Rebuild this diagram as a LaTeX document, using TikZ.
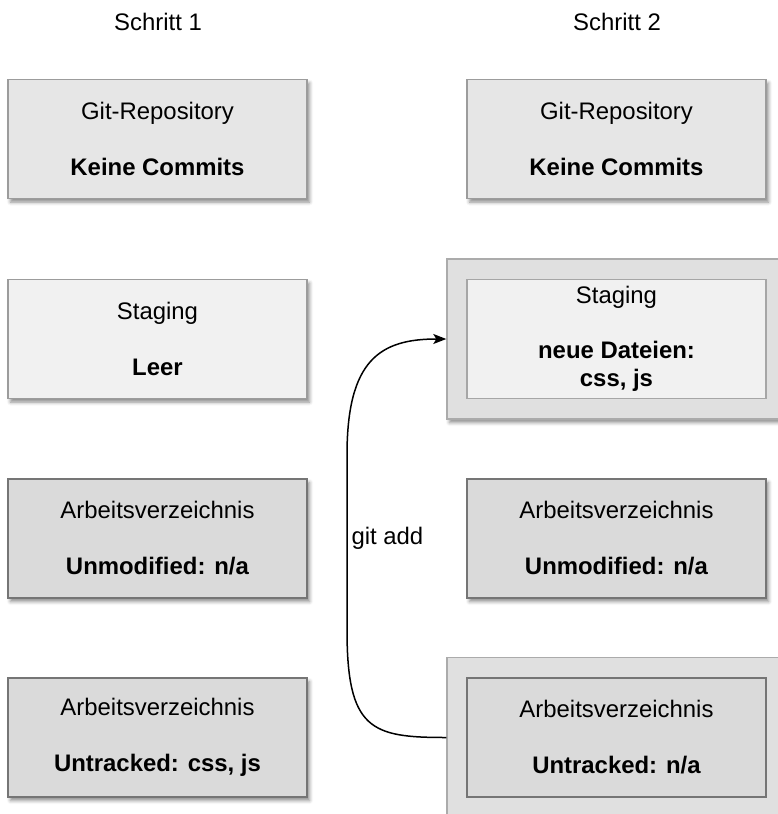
\documentclass[tikz,border=0pt]{standalone}
\usepackage{fontspec}
\setmainfont{Liberation Sans}
\usetikzlibrary{shadows.blur,arrows.meta}
\definecolor{gitfill}{HTML}{E6E6E6}
\definecolor{stagefill}{HTML}{F1F1F1}
\definecolor{workfill}{HTML}{DADADA}
\definecolor{outerfill}{HTML}{E0E0E0}
\definecolor{lightborder}{HTML}{9C9C9C}
\definecolor{darkborder}{HTML}{757575}
\tikzset{
  base/.style={font=\fontsize{24}{28.5}\selectfont, text=black},
  boxbase/.style={base, rectangle, line width=1.4bp, minimum width=299bp, minimum height=119bp, align=center, inner sep=0pt},
  shad/.style={blur shadow={shadow xshift=2.5bp, shadow yshift=-3.5bp, shadow blur radius=3.5bp, shadow opacity=45}},
  gitbox/.style={boxbase, shad, fill=gitfill, draw=lightborder},
  stagebox/.style={boxbase, shad, fill=stagefill, draw=lightborder},
  innerstage/.style={boxbase, fill=stagefill, draw=lightborder!90!white},
  workbox/.style={boxbase, shad, fill=workfill, draw=darkborder},
  innerwork/.style={boxbase, fill=workfill, draw=darkborder},
  outerbox/.style={rectangle, shad, fill=outerfill, draw=lightborder!85!white, line width=1.4bp, minimum width=339bp, minimum height=160bp, inner sep=0pt},
  header/.style={base},
  arrowline/.style={line width=1.5bp, -{Stealth[length=13bp,width=10bp,inset=3bp]}}
}
\begin{document}
\begin{tikzpicture}[x=1bp,y=-1bp]
\useasboundingbox (0,0) rectangle (778,814);

\node[header] (h1) at (158,22) {Schritt 1};
\node[header] (h2) at (617,22) {Schritt 2};

% left column
\node[gitbox] (g1) at (157.5,139) {Git-Repository\\[27.5bp]\textbf{Keine Commits}};
\node[stagebox] (s1) at (157.5,339) {Staging\\[27.5bp]\textbf{Leer}};
\node[workbox] (w1) at (157.5,538.5) {Arbeitsverzeichnis\\[27.5bp]\textbf{Unmodified: n/a}};
\node[workbox] (u1) at (157.5,737.5) {Arbeitsverzeichnis\\[27.5bp]\textbf{Untracked: css, js}};

% right column
\node[gitbox] (g2) at (616.5,139) {Git-Repository\\[27.5bp]\textbf{Keine Commits}};
\node[outerbox] (so) at (616.5,339) {};
\node[innerstage] (s2) at (616.5,339) {Staging\\[26.5bp]\textbf{neue Dateien:}\\\textbf{css, js}};
\node[workbox] (w2) at (616.5,538.5) {Arbeitsverzeichnis\\[27.5bp]\textbf{Unmodified: n/a}};
\node[outerbox] (uo) at (616.5,737.5) {};
\node[innerwork] (u2) at (616.5,737.5) {Arbeitsverzeichnis\\[27.5bp]\textbf{Untracked: n/a}};

% git add connector
\draw[arrowline] (uo.west) .. controls +(-75,0) and (347,730) .. (347,630)
  -- (347,455) .. controls (347,360) and (380,339) .. (so.west);
\node[base, anchor=west] (lbl) at (348,538) {git add};
\end{tikzpicture}
\end{document}
